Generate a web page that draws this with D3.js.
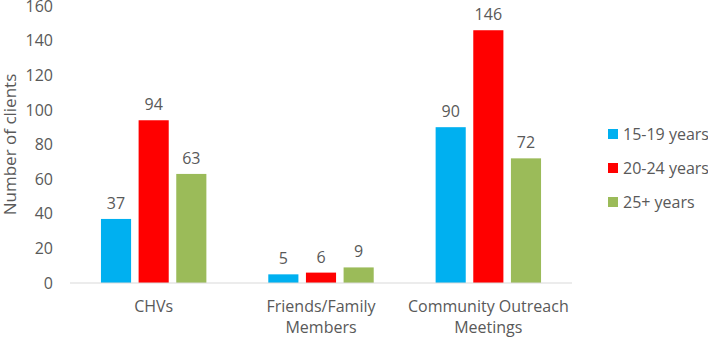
<!DOCTYPE html>
<html>
<head>
<meta charset="utf-8">
<script src="https://cdn.jsdelivr.net/npm/d3@7"></script>
<style>
    body { margin: 0; background: #fff; }
    svg text { font-family: "Open Sans", sans-serif; fill: #595959; }
</style>
</head>
<body>
<svg id="chart" width="708" height="338"></svg>
<script>
const categories = [["CHVs"], ["Friends/Family", "Members"], ["Community Outreach", "Meetings"]];
const seriesNames = ["15-19 years", "20-24 years", "25+ years"];
const seriesColors = ["#00B0F0", "#FF0000", "#9BBB59"];
const values = [
    [37, 5, 90],
    [94, 6, 146],
    [63, 9, 72]
];
const yTicks = [0, 20, 40, 60, 80, 100, 120, 140, 160];

const MARGIN = {top: 6, right: 136, bottom: 55, left: 70};
const svg = d3.select("#chart");
const width = +svg.attr("width");
const height = +svg.attr("height");

const catIdx = categories.map((c, i) => i);

const x0 = d3.scaleBand()
    .domain(catIdx)
    .range([MARGIN.left, width - MARGIN.right])
    .paddingInner(0.37)
    .paddingOuter(0.185);

const x1 = d3.scaleBand()
    .domain(seriesNames)
    .range([0, x0.bandwidth()])
    .paddingInner(0.2);

const y = d3.scaleLinear()
    .domain([0, 160])
    .range([height - MARGIN.bottom, MARGIN.top]);

// y axis labels only, no line
const yAxis = svg.append("g")
    .attr("transform", `translate(${MARGIN.left - 17}, 0)`)
    .call(d3.axisLeft(y).tickValues(yTicks).tickSize(0).tickPadding(0));
yAxis.select(".domain").remove();
yAxis.selectAll("text")
    .style("font-size", "16px")
    .style("font-family", "'Open Sans', sans-serif")
    .attr("fill", "#595959");

svg.append("text")
    .attr("transform", `translate(16, ${(y(0) + y(160)) / 2}) rotate(-90)`)
    .attr("text-anchor", "middle")
    .style("font-size", "17px")
    .text("Number of clients");

// bars
const groups = svg.append("g").selectAll("g")
    .data(seriesNames)
    .join("g")
    .attr("fill", (d, i) => seriesColors[i]);

groups.selectAll("rect")
    .data((s, si) => values[si].map((v, ci) => ({s, v, ci})))
    .join("rect")
    .attr("x", d => x0(d.ci) + x1(d.s))
    .attr("width", x1.bandwidth())
    .attr("y", d => y(d.v))
    .attr("height", d => y(0) - y(d.v));

groups.selectAll("text")
    .data((s, si) => values[si].map((v, ci) => ({s, v, ci})))
    .join("text")
    .attr("x", d => x0(d.ci) + x1(d.s) + x1.bandwidth() / 2)
    .attr("y", d => y(d.v) - 10)
    .attr("text-anchor", "middle")
    .style("font-size", "16px")
    .text(d => d.v);

// x axis baseline
svg.append("line")
    .attr("x1", MARGIN.left)
    .attr("x2", width - MARGIN.right)
    .attr("y1", y(0))
    .attr("y2", y(0))
    .attr("stroke", "#D9D9D9")
    .attr("stroke-width", 1);

const catLabels = svg.append("g").selectAll("text")
    .data(categories)
    .join("text")
    .attr("x", (d, i) => x0(i) + x0.bandwidth() / 2)
    .attr("y", y(0) + 29)
    .attr("text-anchor", "middle")
    .style("font-size", "16px");

catLabels.selectAll("tspan")
    .data(d => d)
    .join("tspan")
    .attr("x", function() { return this.parentNode.getAttribute("x"); })
    .attr("dy", (d, i) => i === 0 ? 0 : 21)
    .text(d => d);

// legend
const legend = svg.append("g")
    .attr("transform", "translate(608, 134)");

const item = legend.selectAll("g")
    .data(seriesNames)
    .join("g")
    .attr("transform", (d, i) => `translate(0, ${i * 34})`);

item.append("rect")
    .attr("y", -5)
    .attr("width", 10)
    .attr("height", 10)
    .attr("fill", (d, i) => seriesColors[i]);

item.append("text")
    .attr("x", 15)
    .attr("dy", "0.35em")
    .style("font-size", "16px")
    .text(d => d);
</script>
</body>
</html>
